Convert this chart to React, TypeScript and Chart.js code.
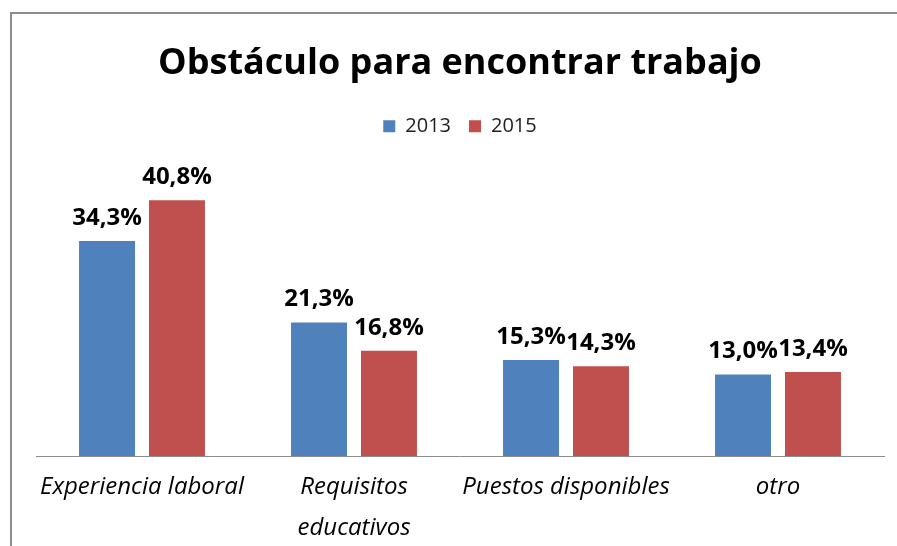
import React, { useEffect, useRef } from 'react';
import { Chart, registerables } from 'chart.js';

Chart.register(...registerables);

const chartTitle = 'Obstáculo para encontrar trabajo';
const categories: (string | string[])[] = [
  'Experiencia laboral',
  ['Requisitos', 'educativos'],
  'Puestos disponibles',
  'otro',
];
const seriesNames = ['2013', '2015'];
const values2013 = [34.3, 21.3, 15.3, 13.0];
const values2015 = [40.8, 16.8, 14.3, 13.4];
const seriesColors = ['#4F81BD', '#C0504D'];
const yMin = 0;
const yMax = 49.4;

const FONT = "'Open Sans', 'Liberation Sans', sans-serif";

const fmt = (v: number) => v.toFixed(1).replace('.', ',') + '%';

const valueLabels = {
  id: 'valueLabels',
  afterDatasetsDraw(chart: any) {
    const ctx = chart.ctx;
    ctx.save();
    ctx.font = `bold 24px ${FONT}`;
    ctx.fillStyle = '#000';
    ctx.textAlign = 'center';
    ctx.textBaseline = 'alphabetic';
    chart.data.datasets.forEach((ds: any, di: number) => {
      const meta = chart.getDatasetMeta(di);
      meta.data.forEach((bar: any, i: number) => {
        ctx.fillText(fmt(ds.data[i]), bar.x, bar.y - 16);
      });
    });
    ctx.restore();
  },
};

export default function App() {
  const ref = useRef<HTMLCanvasElement | null>(null);

  useEffect(() => {
    if (!ref.current) return;
    const chart = new Chart(ref.current, {
      type: 'bar',
      data: {
        labels: categories as any,
        datasets: [
          {
            label: seriesNames[0],
            data: values2013,
            backgroundColor: seriesColors[0],
            categoryPercentage: 0.66,
            barPercentage: 0.8,
          },
          {
            label: seriesNames[1],
            data: values2015,
            backgroundColor: seriesColors[1],
            categoryPercentage: 0.66,
            barPercentage: 0.8,
          },
        ],
      },
      options: {
        responsive: false,
        animation: false,
        layout: { padding: { left: 24, right: 26, top: 0, bottom: 18 } },
        plugins: {
          title: {
            display: true,
            text: chartTitle,
            color: '#000',
            font: { family: FONT, size: 36, weight: 'bold' },
            padding: { top: 28, bottom: 13 },
          },
          legend: {
            display: true,
            position: 'top',
            labels: {
              boxWidth: 12,
              boxHeight: 12,
              color: '#222',
              font: { family: FONT, size: 20 },
              padding: 18,
            },
          },
          tooltip: { enabled: false },
        },
        scales: {
          x: {
            grid: { display: false },
            border: { display: true, color: '#8c8c8c', width: 1 },
            ticks: {
              color: '#000',
              padding: 3,
              maxRotation: 0,
              autoSkip: false,
              font: { family: FONT, size: 24, style: 'italic', lineHeight: 1.7 },
            },
            afterFit: (scale: any) => {
              scale.height = 100;
            },
          },
          y: {
            display: false,
            min: yMin,
            max: yMax,
          },
        },
      },
      plugins: [valueLabels],
    });
    return () => chart.destroy();
  }, []);

  return (
    <div
      style={{
        position: 'fixed',
        left: 0,
        top: 0,
        width: 897,
        height: 546,
        overflow: 'hidden',
        background: '#fff',
      }}
    >
      <div
        style={{
          position: 'absolute',
          left: 10,
          top: 12,
          width: 940,
          height: 600,
          borderLeft: '2px solid #8c8c8c',
          borderTop: '2px solid #8c8c8c',
        }}
      >
        <canvas ref={ref} width={898} height={560} style={{ display: 'block', width: 898, height: 560 }} />
      </div>
    </div>
  );
}
